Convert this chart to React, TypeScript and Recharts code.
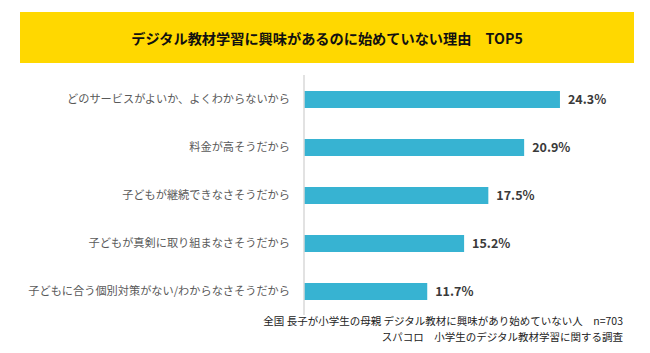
import { Bar, BarChart, LabelList, XAxis, YAxis } from "recharts";

const reasons = [
  "どのサービスがよいか、よくわからないから",
  "料金が高そうだから",
  "子どもが継続できなさそうだから",
  "子どもが真剣に取り組まなさそうだから",
  "子どもに合う個別対策がない/わからなさそうだから",
];
const shares = [24.3, 20.9, 17.5, 15.2, 11.7];

const notes = [
  "全国 長子が小学生の母親 デジタル教材に興味があり始めていない人　n=703",
  "スパコロ　小学生のデジタル教材学習に関する調査",
];

const data = reasons.map((r, i) => ({ r, v: shares[i] }));

const font = "'Noto Sans CJK JP', 'Noto Sans', sans-serif";
const barFill = "#37b3d2";

export default function App() {
  return (
    <div
      style={{
        position: "absolute",
        left: 0,
        top: 0,
        width: 650,
        height: 353,
        background: "#fff",
        fontFamily: font,
        overflow: "hidden",
      }}
    >
      <div
        style={{
          position: "absolute",
          left: 20,
          top: 12,
          width: 614,
          height: 51,
          background: "#ffd800",
          display: "flex",
          alignItems: "center",
          justifyContent: "center",
          fontSize: 14.2,
          fontWeight: 700,
          color: "#111",
        }}
      >
        デジタル教材学習に興味があるのに始めていない理由　TOP5
      </div>
      <div style={{ position: "absolute", left: 0, top: 0 }}>
        <BarChart
          width={650}
          height={315}
          layout="vertical"
          data={data}
          margin={{ top: 75, right: 30, bottom: 0, left: 0 }}
          barSize={17}
        >
          <XAxis type="number" domain={[0, 30]} hide />
          <YAxis
            type="category"
            dataKey="r"
            width={304}
            axisLine={{ stroke: "#d9d9d9", strokeWidth: 1.5 }}
            tickLine={false}
            tickMargin={8}
            tick={{ fill: "#595959", fontSize: 11.2, fontFamily: font }}
            interval={0}
          />
          <Bar dataKey="v" fill={barFill} isAnimationActive={false}>
            <LabelList
              dataKey="v"
              position="right"
              offset={8}
              formatter={(v: number) => `${v}%`}
              style={{ fill: "#3a3a3a", fontSize: 12.5, fontWeight: 700, fontFamily: font }}
            />
          </Bar>
        </BarChart>
      </div>
      <div
        style={{
          position: "absolute",
          right: 27,
          top: 313,
          textAlign: "right",
          fontSize: 10.5,
          lineHeight: "16px",
          color: "#222",
        }}
      >
        {notes.map((n) => (
          <div key={n}>{n}</div>
        ))}
      </div>
    </div>
  );
}
